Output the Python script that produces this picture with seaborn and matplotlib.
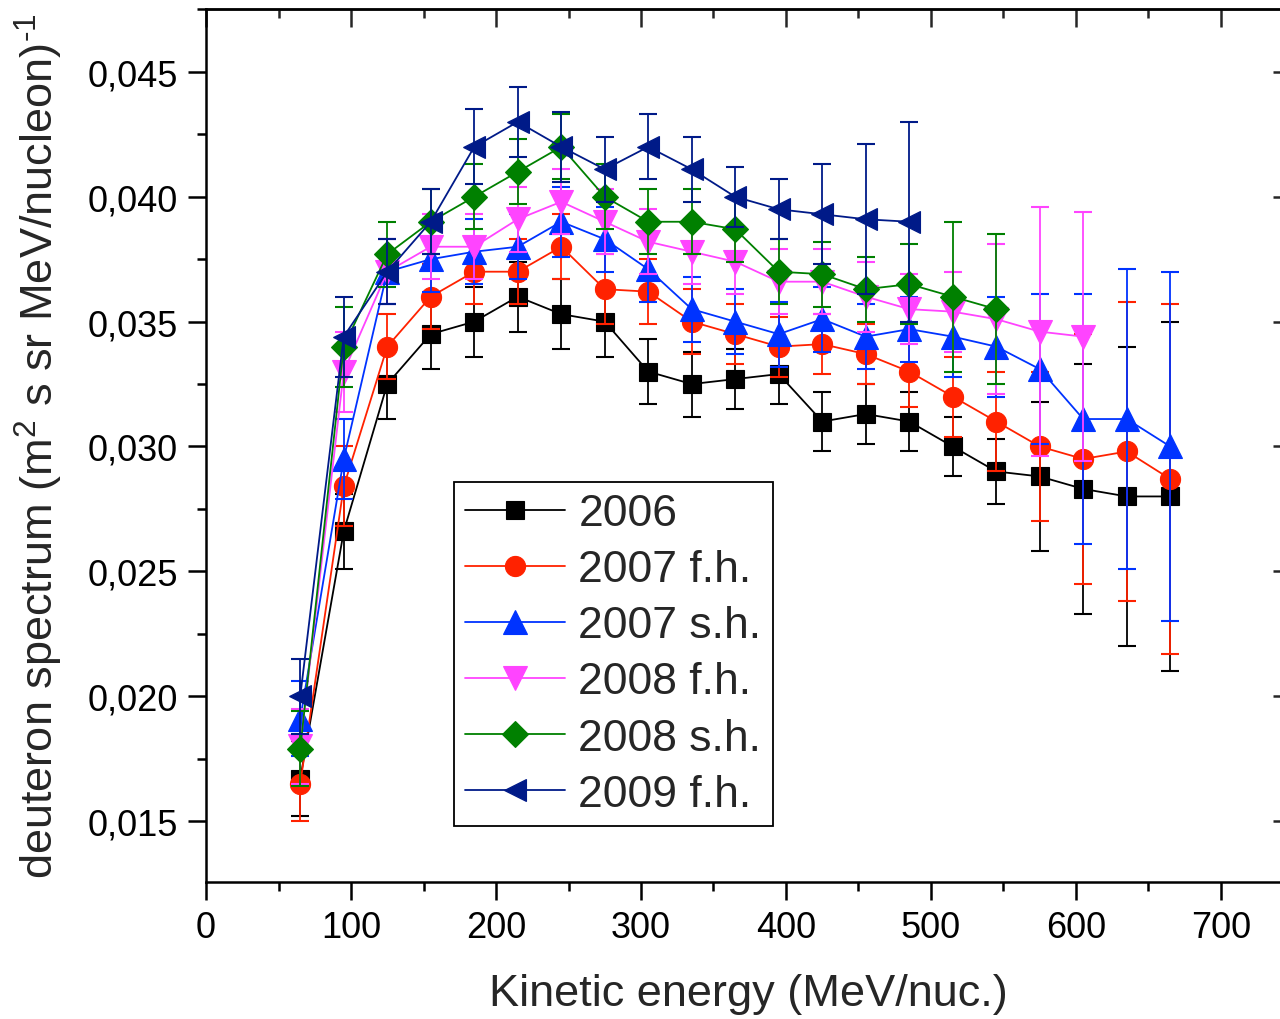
import matplotlib
matplotlib.use('Agg')
import matplotlib.pyplot as plt
import seaborn as sns
import pandas as pd
from matplotlib.ticker import MultipleLocator, FuncFormatter

# ---------------- data ----------------
energy = [65, 95, 125, 155, 185, 215, 245, 275, 305, 335, 365, 395, 425, 455,
          485, 515, 545, 575, 605, 635, 665]

y_2006 = [0.0167, 0.0266, 0.0325, 0.0345, 0.0350, 0.0360, 0.0353, 0.0350, 0.0330,
          0.0325, 0.0327, 0.0329, 0.0310, 0.0313, 0.0310, 0.0300, 0.0290, 0.0288,
          0.0283, 0.0280, 0.0280]
e_2006 = [0.0015, 0.0015, 0.0014, 0.0014, 0.0014, 0.0014, 0.0014, 0.0014, 0.0013,
          0.0013, 0.0012, 0.0012, 0.0012, 0.0012, 0.0012, 0.0012, 0.0013, 0.0030,
          0.0050, 0.0060, 0.0070]

y_2007fh = [0.0165, 0.0284, 0.0340, 0.0360, 0.0370, 0.0370, 0.0380, 0.0363, 0.0362,
            0.0350, 0.0345, 0.0340, 0.0341, 0.0337, 0.0330, 0.0320, 0.0310, 0.0300,
            0.0295, 0.0298, 0.0287]
e_2007fh = [0.0015, 0.0016, 0.0013, 0.0013, 0.0013, 0.0013, 0.0013, 0.0014, 0.0013,
            0.0013, 0.0012, 0.0012, 0.0012, 0.0012, 0.0014, 0.0016, 0.0020, 0.0030,
            0.0050, 0.0060, 0.0070]

y_2007sh = [0.0191, 0.0295, 0.0370, 0.0375, 0.0378, 0.0380, 0.0390, 0.0383, 0.0371,
            0.0355, 0.0350, 0.0345, 0.0351, 0.0344, 0.0347, 0.0344, 0.0340, 0.0331,
            0.0311, 0.0311, 0.0300]
e_2007sh = [0.0015, 0.0016, 0.0013, 0.0013, 0.0013, 0.0013, 0.0014, 0.0013, 0.0013,
            0.0013, 0.0013, 0.0013, 0.0013, 0.0013, 0.0013, 0.0016, 0.0020, 0.0030,
            0.0050, 0.0060, 0.0070]

y_2008fh = [0.0180, 0.0330, 0.0370, 0.0380, 0.0380, 0.0391, 0.0398, 0.0390, 0.0382,
            0.0378, 0.0374, 0.0366, 0.0366, 0.0360, 0.0355, 0.0354, 0.0351, 0.0346,
            0.0344]
e_2008fh = [0.0015, 0.0016, 0.0013, 0.0013, 0.0013, 0.0013, 0.0013, 0.0013, 0.0013,
            0.0013, 0.0013, 0.0013, 0.0013, 0.0014, 0.0014, 0.0016, 0.0030, 0.0050,
            0.0050]

y_2008sh = [0.0179, 0.0340, 0.0377, 0.0390, 0.0400, 0.0410, 0.0420, 0.0400, 0.0390,
            0.0390, 0.0387, 0.0370, 0.0369, 0.0363, 0.0365, 0.0360, 0.0355]
e_2008sh = [0.0015, 0.0016, 0.0013, 0.0013, 0.0013, 0.0013, 0.0013, 0.0013, 0.0013,
            0.0013, 0.0013, 0.0013, 0.0013, 0.0013, 0.0016, 0.0030, 0.0030]

y_2009fh = [0.0200, 0.0344, 0.0370, 0.0390, 0.0420, 0.0430, 0.0420, 0.0411, 0.0420,
            0.0411, 0.0400, 0.0395, 0.0393, 0.0391, 0.0390]
e_2009fh = [0.0015, 0.0016, 0.0013, 0.0013, 0.0015, 0.0014, 0.0014, 0.0013, 0.0013,
            0.0013, 0.0012, 0.0012, 0.0020, 0.0030, 0.0040]

labels = ['2006', '2007 f.h.', '2007 s.h.', '2008 f.h.', '2008 s.h.', '2009 f.h.']
values = [y_2006, y_2007fh, y_2007sh, y_2008fh, y_2008sh, y_2009fh]
errors = [e_2006, e_2007fh, e_2007sh, e_2008fh, e_2008sh, e_2009fh]

# ---------------- style ----------------
colors = ['#000000', '#ff2200', '#0033ff', '#ff44ff', '#008000', '#001a88']
markers = ['s', 'o', '^', 'v', 'D', '<']
msizes = [13, 14.5, 17.5, 17.5, 13, 16.5]

sns.set_theme(style='ticks')
plt.rcParams['font.family'] = ['Liberation Sans', 'DejaVu Sans']
plt.rcParams['mathtext.fontset'] = 'custom'
plt.rcParams['mathtext.rm'] = 'Liberation Sans'
plt.rcParams['mathtext.it'] = 'Liberation Sans:italic'
plt.rcParams['mathtext.bf'] = 'Liberation Sans:bold'

fig = plt.figure(figsize=(12.8, 10.2), dpi=100)
ax = fig.add_axes([206 / 1280, 1 - 883 / 1020, (1290.6 - 206) / 1280, (883 - 10) / 1020])

for lab, y, e, c, m, ms in zip(labels, values, errors, colors, markers, msizes):
    xs = energy[:len(y)]
    df = pd.DataFrame({'x': xs, 'y': y})
    sns.lineplot(data=df, x='x', y='y', ax=ax, color=c, marker=m, markersize=ms,
                 markeredgecolor=c, markeredgewidth=0.8, linewidth=1.3,
                 estimator=None, sort=False, label=lab, legend=False)
    ax.errorbar(xs, y, yerr=e, fmt='none', ecolor=c, elinewidth=1.3,
                capsize=6.5, capthick=1.5)

ax.set_xlim(0, 748)
ax.set_ylim(0.01256, 0.04752)
ax.xaxis.set_major_locator(MultipleLocator(100))
ax.xaxis.set_minor_locator(MultipleLocator(50))
ax.yaxis.set_major_locator(MultipleLocator(0.005))
ax.yaxis.set_minor_locator(MultipleLocator(0.0025))
ax.yaxis.set_major_formatter(FuncFormatter(lambda v, p: f"{v:.3f}".replace('.', ',')))
ax.xaxis.set_major_formatter(FuncFormatter(lambda v, p: f"{v:.0f}"))

ax.tick_params(which='major', direction='out', length=13, width=1.8, labelsize=26,
               pad=7, colors='black')
ax.tick_params(which='minor', direction='out', length=6.5, width=1.8, colors='black')
for s in ax.spines.values():
    s.set_linewidth(1.8)
    s.set_color('black')

top = ax.secondary_xaxis('top')
top.xaxis.set_major_locator(MultipleLocator(100))
top.xaxis.set_minor_locator(MultipleLocator(50))
top.tick_params(which='major', direction='in', length=13, width=1.8, labeltop=False)
top.tick_params(which='minor', direction='in', length=6.5, width=1.8)
top.spines['top'].set_linewidth(1.8)

right = ax.secondary_yaxis('right')
right.yaxis.set_major_locator(MultipleLocator(0.005))
right.yaxis.set_minor_locator(MultipleLocator(0.0025))
right.tick_params(which='major', direction='in', length=13, width=1.8, labelright=False)
right.tick_params(which='minor', direction='in', length=6.5, width=1.8)

ax.set_xlabel('Kinetic energy (MeV/nuc.)', fontsize=32.5, labelpad=20)
ax.set_ylabel(r'deuteron spectrum (m$^{2}$ s sr MeV/nucleon)$^{\text{-}1}$', fontsize=32.5,
              labelpad=16)

handles, labs = ax.get_legend_handles_labels()
leg = ax.legend(handles, labs, loc='upper left',
                bbox_to_anchor=(454 / 1280, 1 - 483 / 1020), bbox_transform=fig.transFigure,
                fontsize=32, frameon=True, fancybox=False, edgecolor='black', framealpha=1,
                handlelength=2.25, handletextpad=0.3, labelspacing=0.34, borderpad=0.25,
                borderaxespad=0)
leg.get_frame().set_linewidth(1.3)

fig.savefig('out.png', dpi=100)
